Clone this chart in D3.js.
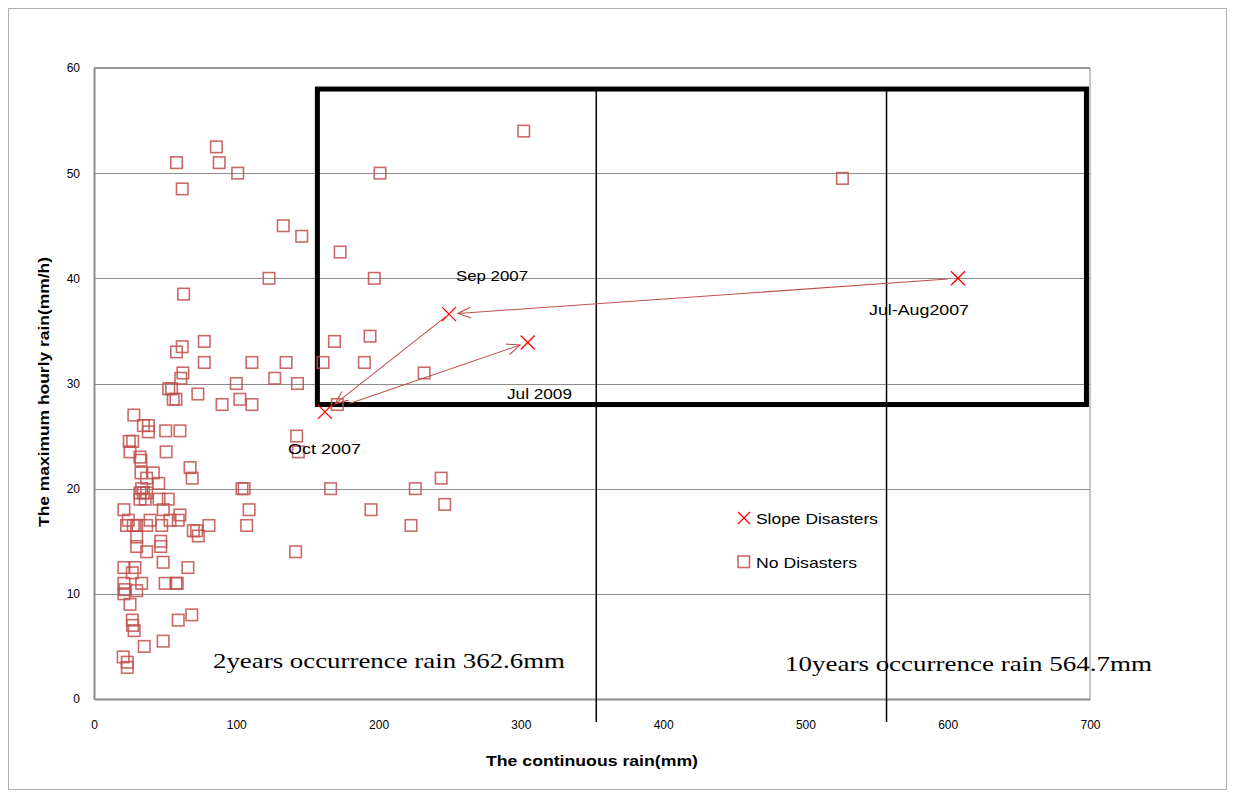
<!DOCTYPE html>
<html><head><meta charset="utf-8">
<script src="https://cdn.jsdelivr.net/npm/d3@7"></script>
<style>
body{margin:0;background:#fff;}
svg{display:block;}
</style></head>
<body>
<svg id="chart" width="1235" height="798"></svg>
<script>
// ---------- DATA ----------
const xTicks = [0,100,200,300,400,500,600,700];
const yTicks = [0,10,20,30,40,50,60];

// No Disasters: [continuous rain (mm), max hourly rain (mm/h)]
const noDisasters = [
 [86,52.5],[58,51],[88,51],[101,50],[62,48.5],[133,45],[146,44],[173,42.5],[123,40],[197,40],[63,38.5],
 [302,54],[201,50],[526,49.5],
 [77.5,34],[62,33.5],[58,33],[77.5,32],[111,32],[135,32],[161,32],[190,32],[194,34.5],[169,34],
 [62.5,31],[61,30.5],[127,30.5],[100,30],[143,30],[232,31],[54.5,29.5],[52.5,29.5],[73,29],
 [55.7,28.5],[57.6,28.5],[102.5,28.5],[111,28],[90,28],[171,28],
 [28,27],[34.7,26],[38.2,26],[38.2,25.4],[50.4,25.5],[60.4,25.5],[24.8,24.5],[27.2,24.5],[25.3,23.5],
 [50.7,23.5],[32.3,23],[33,22.7],[67.5,22],[69,21],[33,21.5],[37,21],[41.7,21.5],[45.5,20.5],[33.5,20],
 [104,20],[105.5,20],
 [32.3,19.6],[34.7,19.6],[37,19.6],[32.3,19],[36,19],[45.7,19],[52.2,19],
 [109,18],[21,18],[48.7,18],[60.4,17.5],[59.2,17],[39.4,17],[53.4,17],[24.1,17],[22.9,16.5],[27.6,16.5],
 [30,16.5],[37,16.5],[47.6,16.5],[80.8,16.5],[107.3,16.5],[72.1,16],[69.8,16],[73.3,15.5],[30,15.4],
 [30,14.5],[46.9,15],[46.9,14.5],[37,14],[48.6,13],[21,12.5],[28.8,12.5],[66,12.5],[26.9,12],
 [21,11],[33.5,11],[50,11],[57.6,11],[58.5,11],[21.8,10.4],[21,10],[30,10.3],[25.3,9],
 [26.9,7.5],[27.2,7],[28.2,6.5],[59.2,7.5],[68.7,8],[35.3,5],[48.6,5.5],[20.5,4],[23.4,3.5],[23.4,3],
 [142.4,25],[143.6,23.5],[166.3,20],[225.8,20],[244,21],[194.7,18],[246.5,18.5],[222.8,16.5],[141.7,14]
];

// Slope Disasters
const disasterNames = ["Oct 2007","Sep 2007","Jul 2009","Jul-Aug2007"];
const disasterX = [162.3, 249.5, 304.8, 607.2];
const disasterY = [27.3, 36.6, 33.9, 40.0];

// arrows between disaster events (from index, to index)
const arrowFrom = [3, 1, 0];
const arrowTo   = [1, 0, 2];

// highlighted region and return-period rainfall lines
const boxX = [157, 697.5];
const boxY = [28, 58];
const returnRainLines = [353, 557];
const returnRainLabels = ["2years occurrence rain 362.6mm", "10years occurrence rain 564.7mm"];

const xTitle = "The continuous rain(mm)";
const yTitle = "The maximum hourly rain(mm/h)";
const legendLabels = ["Slope Disasters", "No Disasters"];

// ---------- DRAW ----------
const svg = d3.select("#chart");
const SANS = "'Liberation Sans', Arial, sans-serif";
const SERIF = "'Liberation Serif', 'Times New Roman', serif";
const sqColor = "#c0504d";

const x = d3.scaleLinear().domain([0,700]).range([94,1090]);
const y = d3.scaleLinear().domain([0,60]).range([699,68]);

// outer frame
svg.append("rect").attr("x",8.5).attr("y",8.5).attr("width",1218).attr("height",781)
  .attr("fill","#fff").attr("stroke","#b0b0b0").attr("stroke-width",1);

// gridlines
svg.append("g").selectAll("line").data(yTicks.filter(d=>d>0 && d<60)).join("line")
  .attr("x1",x(0)).attr("x2",x(700)).attr("y1",d=>Math.round(y(d))+0.5).attr("y2",d=>Math.round(y(d))+0.5)
  .attr("stroke","#8c8c8c").attr("stroke-width",1);

// plot border: top and right
svg.append("line").attr("x1",x(0)).attr("x2",x(700)).attr("y1",y(60)).attr("y2",y(60))
  .attr("stroke","#333").attr("stroke-width",1);
svg.append("line").attr("x1",x(700)).attr("x2",x(700)).attr("y1",y(60)).attr("y2",y(0))
  .attr("stroke","#8c8c8c").attr("stroke-width",1);

// axes
const xAxis = svg.append("g").attr("transform",`translate(0,${y(0)})`)
  .call(d3.axisBottom(x).tickValues(xTicks).tickSize(0).tickPadding(21).tickFormat(d3.format("d")));
const yAxis = svg.append("g").attr("transform",`translate(${x(0)},0)`)
  .call(d3.axisLeft(y).tickValues(yTicks).tickSize(0).tickPadding(14).tickFormat(d3.format("d")));
[xAxis,yAxis].forEach(g=>{
  g.select(".domain").attr("stroke","#8c8c8c").attr("stroke-width",2);
  g.selectAll("text").attr("font-family",SANS).attr("font-size",12).attr("fill","#000");
});

// return-period vertical lines
svg.append("g").selectAll("line").data(returnRainLines).join("line")
  .attr("x1",d=>x(d)).attr("x2",d=>x(d)).attr("y1",y(boxY[1])).attr("y2",y(0)+23)
  .attr("stroke","#000").attr("stroke-width",1.5);

// highlight box
svg.append("rect").attr("x",x(boxX[0])).attr("y",y(boxY[1]))
  .attr("width",x(boxX[1])-x(boxX[0])).attr("height",y(boxY[0])-y(boxY[1]))
  .attr("fill","none").attr("stroke","#000").attr("stroke-width",5);

// No Disasters squares
const sq = 11.5;
svg.append("g").selectAll("rect").data(noDisasters).join("rect")
  .attr("x",d=>x(d[0])-sq/2).attr("y",d=>y(d[1])-sq/2).attr("width",sq).attr("height",sq)
  .attr("fill","none").attr("stroke",sqColor).attr("stroke-width",1.6).attr("stroke-opacity",0.85);

// arrows
svg.append("defs").append("marker").attr("id","arr")
  .attr("markerUnits","userSpaceOnUse").attr("markerWidth",16).attr("markerHeight",14)
  .attr("refX",14).attr("refY",7).attr("orient","auto")
  .append("path").attr("d","M1,1.5 L14,7 L1,12.5").attr("fill","none").attr("stroke",sqColor).attr("stroke-width",1.1);
const startGap = [10, 4, 26], endGap = [9, 13, 8];
const arrows = arrowFrom.map((f,i)=>{
  const x1=x(disasterX[f]), y1=y(disasterY[f]), x2=x(disasterX[arrowTo[i]]), y2=y(disasterY[arrowTo[i]]);
  const L=Math.hypot(x2-x1,y2-y1), ux=(x2-x1)/L, uy=(y2-y1)/L;
  return {x1:x1+ux*startGap[i], y1:y1+uy*startGap[i], x2:x2-ux*endGap[i], y2:y2-uy*endGap[i]};
});
svg.append("g").selectAll("line").data(arrows).join("line")
  .attr("x1",d=>d.x1).attr("y1",d=>d.y1).attr("x2",d=>d.x2).attr("y2",d=>d.y2)
  .attr("stroke",sqColor).attr("stroke-width",1.1).attr("marker-end","url(#arr)");

// Slope Disasters crosses
const cr = 7;
const crossPath = (cx,cy,r)=>`M${cx-r},${cy-r}L${cx+r},${cy+r}M${cx-r},${cy+r}L${cx+r},${cy-r}`;
svg.append("g").selectAll("path").data(disasterX.map((d,i)=>[d,disasterY[i]])).join("path")
  .attr("d",d=>crossPath(x(d[0]),y(d[1]),cr)).attr("stroke","#ff0000").attr("stroke-width",1.3).attr("fill","none");

// event labels
const labelPos = [[288,454],[456,281],[507,399],[869,315]]; // left, baseline
const labelLen = [73,72,65,100];
svg.append("g").selectAll("text").data(disasterNames).join("text")
  .attr("x",(d,i)=>labelPos[i][0]).attr("y",(d,i)=>labelPos[i][1])
  .attr("textLength",(d,i)=>labelLen[i]).attr("lengthAdjust","spacingAndGlyphs")
  .attr("font-family",SANS).attr("font-size",15).attr("fill","#000").text(d=>d);

// legend
svg.append("path").attr("d",crossPath(744,518,6)).attr("stroke","#ff0000").attr("stroke-width",1.3);
svg.append("rect").attr("x",738).attr("y",556).attr("width",11.5).attr("height",11.5)
  .attr("fill","none").attr("stroke",sqColor).attr("stroke-width",1.6).attr("stroke-opacity",0.85);
svg.append("text").attr("x",756).attr("y",524).attr("textLength",122).attr("lengthAdjust","spacingAndGlyphs")
  .attr("font-family",SANS).attr("font-size",15).text(legendLabels[0]);
svg.append("text").attr("x",756).attr("y",568).attr("textLength",101).attr("lengthAdjust","spacingAndGlyphs")
  .attr("font-family",SANS).attr("font-size",15).text(legendLabels[1]);

// return period labels
svg.append("text").attr("x",213).attr("y",668).attr("textLength",352).attr("lengthAdjust","spacingAndGlyphs")
  .attr("font-family",SERIF).attr("font-size",22).text(returnRainLabels[0]);
svg.append("text").attr("x",785).attr("y",671).attr("textLength",367).attr("lengthAdjust","spacingAndGlyphs")
  .attr("font-family",SERIF).attr("font-size",22).text(returnRainLabels[1]);

// axis titles
svg.append("text").attr("x",486).attr("y",766).attr("textLength",212).attr("lengthAdjust","spacingAndGlyphs")
  .attr("font-family",SANS).attr("font-weight","bold").attr("font-size",15).text(xTitle);
svg.append("text").attr("transform","translate(49,527) rotate(-90)").attr("textLength",270).attr("lengthAdjust","spacingAndGlyphs")
  .attr("font-family",SANS).attr("font-weight","bold").attr("font-size",15).text(yTitle);
</script>
</body></html>
